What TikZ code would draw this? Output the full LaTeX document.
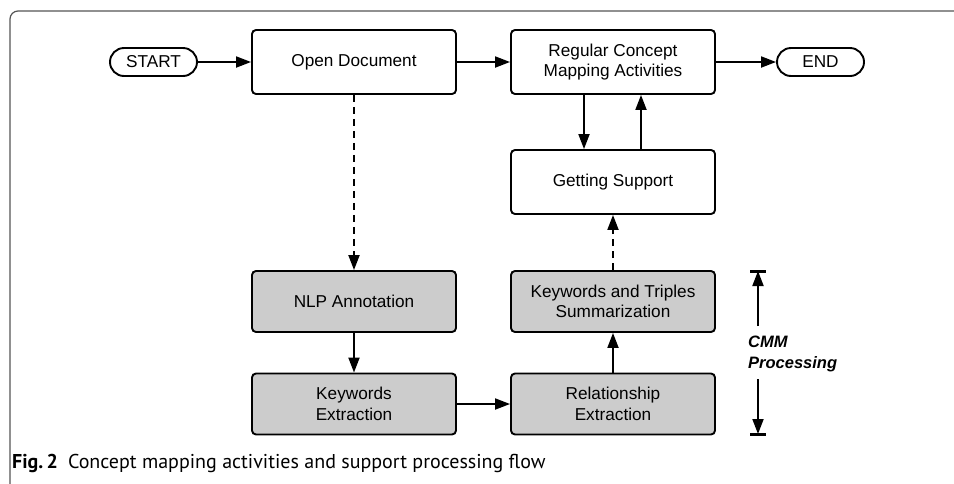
\documentclass[tikz,border=0pt]{standalone}
\usepackage{fontspec}
\setmainfont{Liberation Sans}
\newfontfamily\capfont{PT Sans}
\usetikzlibrary{arrows.meta}
\definecolor{boxgray}{RGB}{204,204,204}
\definecolor{framegray}{RGB}{85,85,85}
\begin{document}
\begin{tikzpicture}[x=1pt,y=-1pt,
  every node/.style={inner sep=0pt},
  boxtxt/.style={font=\fontsize{17.2}{20.5}\selectfont, align=center},
  procbox/.style={boxtxt, draw, line width=1.9pt, rounded corners=4pt, minimum width=204pt, minimum height=64pt},
  shadebox/.style={procbox, fill=boxgray, minimum height=61pt},
  term/.style={boxtxt, draw, line width=1.9pt, rounded corners=14pt, minimum width=87pt, minimum height=28pt},
  arr/.style={line width=1.9pt, -{Triangle[length=15pt,width=11pt]}},
  darr/.style={arr, dash pattern=on 7pt off 5pt}
]
\useasboundingbox (0,0) rectangle (954,483);
\fill[white] (0,0) rectangle (954,483);
% frame
\draw[framegray, line width=1.2pt, rounded corners=8pt] (10,490) -- (10,11) -- (960,11);

% nodes
\node[term] (start) at (153.5,62) {START};
\node[procbox] (open) at (354,62) {Open Document};
\node[procbox] (reg) at (613,62) {Regular Concept\\Mapping Activities};
\node[term] (end) at (820.5,62) {END};
\node[procbox] (gs) at (613,182) {Getting Support};
\node[shadebox] (nlp) at (354,301.5) {NLP Annotation};
\node[shadebox] (kw) at (354,404) {Keywords\\Extraction};
\node[shadebox] (kts) at (613,301.5) {Keywords and Triples\\Summarization};
\node[shadebox] (rel) at (613,404) {Relationship\\Extraction};

% connectors
\draw[arr] (start) -- (open);
\draw[arr] (open) -- (reg);
\draw[arr] (reg) -- (end);
\draw[arr] ([xshift=-29pt]reg.south) -- ([xshift=-29pt]gs.north);
\draw[arr] ([xshift=28pt]gs.north) -- ([xshift=28pt]reg.south);
\draw[darr] (open) -- (nlp);
\draw[arr] (nlp) -- (kw);
\draw[arr] (kw) -- (rel);
\draw[arr] (rel) -- (kts);
\draw[darr] (kts) -- (gs);

% CMM processing bracket
\coordinate (ctop) at (758,271);
\coordinate (cbot) at (758,434);
\coordinate (cup) at (758,326);
\coordinate (cdn) at (758,379);
\draw[arr] (cup) -- (ctop);
\draw[arr] (cdn) -- (cbot);
\draw[line width=3pt] ([xshift=-8pt]ctop) -- ([xshift=8pt]ctop);
\draw[line width=3pt] ([xshift=-8pt]cbot) -- ([xshift=8pt]cbot);
\node[anchor=west, align=left, font=\fontsize{16.5}{21}\selectfont\bfseries\itshape] (cmm) at (748,354) {CMM\\Processing};

% caption
\node[anchor=base west, font=\capfont\fontsize{20}{22}\selectfont] (cap) at (12,468)
  {\textbf{Fig.\,2}\hspace{0.5em}Concept mapping activities and support processing flow};
\end{tikzpicture}
\end{document}
